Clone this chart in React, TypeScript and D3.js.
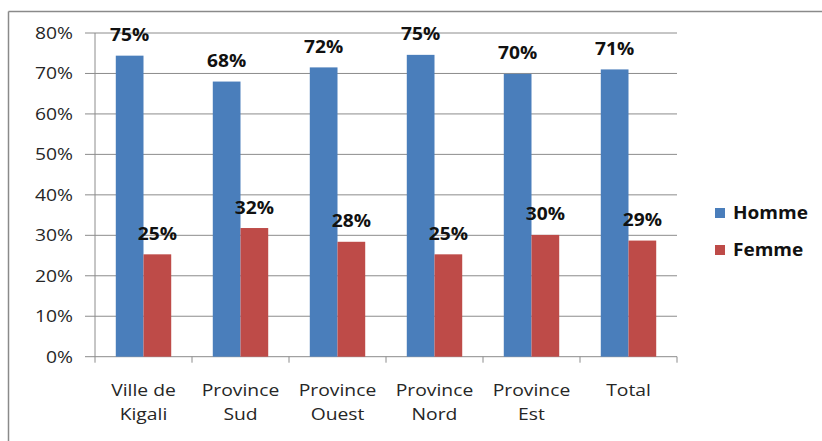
import React from "react";
import * as d3 from "d3";

const categories: string[][] = [
  ["Ville de", "Kigali"],
  ["Province", "Sud"],
  ["Province", "Ouest"],
  ["Province", "Nord"],
  ["Province", "Est"],
  ["Total"],
];
const seriesNames = ["Homme", "Femme"];
const hommeValues = [74.4, 68.0, 71.5, 74.6, 69.9, 71.0];
const femmeValues = [25.3, 31.8, 28.4, 25.3, 30.1, 28.7];
const hommeLabels = ["75%", "68%", "72%", "75%", "70%", "71%"];
const femmeLabels = ["25%", "32%", "28%", "25%", "30%", "29%"];
const yTicks = [0, 10, 20, 30, 40, 50, 60, 70, 80];
const colors = ["#4A7EBB", "#BE4B48"];

const W = 822;
const H = 441;
const plotLeft = 95;
const plotRight = 677;
const plotTop = 33;
const plotBottom = 356.7;
const FONT = "'Open Sans', 'DejaVu Sans', sans-serif";

function SText({ x, y, anchor, size, weight, children, fill = "#1a1a1a", sx = 1.2 }: any) {
  return (
    <text
      transform={`translate(${x},${y}) scale(${sx},1)`}
      textAnchor={anchor}
      fontSize={size}
      fontWeight={weight}
      fontFamily={FONT}
      fill={fill}
    >
      {children}
    </text>
  );
}

export default function App() {
  const idx = categories.map((_, i) => String(i));
  const x = d3.scaleBand<string>().domain(idx).range([plotLeft, plotRight]).paddingInner(0).paddingOuter(0);
  const y = d3.scaleLinear().domain([0, 80]).range([plotBottom, plotTop]);
  const bw = x.bandwidth();
  const barW = bw / 3.5;
  const groupOffset = (bw - 2 * barW) / 2;
  const series = [hommeValues, femmeValues];
  const labels = [hommeLabels, femmeLabels];

  return (
    <svg
      width={W}
      height={H}
      style={{ position: "absolute", left: 0, top: 0, background: "#fff" }}
    >
      <rect x={0} y={0} width={W} height={H} fill="#fff" />
      <line x1={8.5} y1={11.5} x2={W} y2={11.5} stroke="#8a8a8a" strokeWidth={1.5} />
      <line x1={8.5} y1={11.5} x2={8.5} y2={H} stroke="#8a8a8a" strokeWidth={1.5} />

      {yTicks.map((t) => (
        <g key={t}>
          <line x1={plotLeft - 10} x2={plotRight} y1={y(t)} y2={y(t)} stroke="#8c8c8c" strokeWidth={1} />
          <SText x={73} y={y(t) + 6} anchor="end" size={16.5} weight={400} fill="#262626" sx={1.17}>
            {`${t}%`}
          </SText>
        </g>
      ))}
      <line x1={plotLeft} x2={plotLeft} y1={plotTop} y2={plotBottom} stroke="#8c8c8c" />
      {d3.range(categories.length + 1).map((i) => {
        const xx = plotLeft + i * bw;
        return <line key={i} x1={xx} x2={xx} y1={plotBottom} y2={plotBottom + 6} stroke="#8c8c8c" />;
      })}

      {series.map((vals, s) =>
        vals.map((v, i) => {
          const bx = (x(String(i)) as number) + groupOffset + s * barW;
          return (
            <g key={`${s}-${i}`}>
              <rect x={bx} y={y(v)} width={barW} height={plotBottom - y(v)} fill={colors[s]} />
              <SText x={bx + barW / 2} y={y(v) - 14.5} anchor="middle" size={17} weight={700} fill="#111" sx={1.13}>
                {labels[s][i]}
              </SText>
            </g>
          );
        })
      )}

      {categories.map((lines, i) => {
        const cx = (x(String(i)) as number) + bw / 2;
        return lines.map((ln, j) => (
          <SText key={`${i}-${j}`} x={cx} y={396 + j * 24} anchor="middle" size={16.5} weight={400} fill="#262626" sx={1.17}>
            {ln}
          </SText>
        ));
      })}

      {seriesNames.map((n, s) => (
        <g key={n}>
          <rect x={715} y={208 + s * 37} width={10} height={10} fill={colors[s]} />
          <SText x={733} y={219 + s * 37} anchor="start" size={17} weight={700} fill="#111" sx={1.12}>
            {n}
          </SText>
        </g>
      ))}
    </svg>
  );
}
